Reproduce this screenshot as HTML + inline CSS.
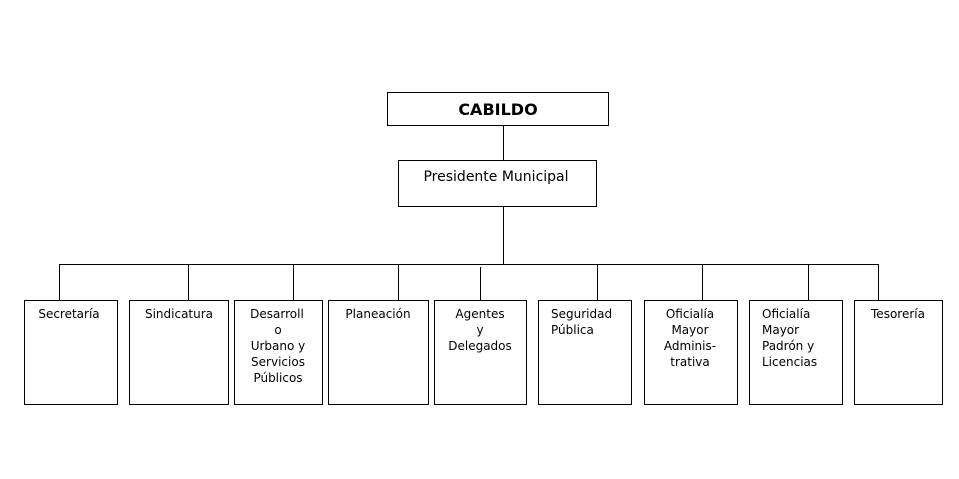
<!DOCTYPE html>
<html><head><meta charset="utf-8"><style>
html,body{margin:0;padding:0;background:#fff;width:959px;height:479px;overflow:hidden}
text{font-family:"DejaVu Sans","Liberation Sans",sans-serif;font-size:12px;fill:#000}
</style></head><body>
<svg width="959" height="479" viewBox="0 0 959 479" xmlns="http://www.w3.org/2000/svg">
<g fill="none" stroke="#000" stroke-width="1">
<rect x="387.5" y="92.5" width="221" height="33"/>
<rect x="398.5" y="160.5" width="198" height="46"/>
<line x1="503.5" y1="125" x2="503.5" y2="160"/>
<line x1="503.5" y1="206" x2="503.5" y2="264"/>
<line x1="59" y1="264.5" x2="879" y2="264.5"/>
<line x1="59.5" y1="264" x2="59.5" y2="300"/>
<line x1="188.5" y1="264" x2="188.5" y2="300"/>
<line x1="293.5" y1="264" x2="293.5" y2="300"/>
<line x1="398.5" y1="264" x2="398.5" y2="300"/>
<line x1="480.5" y1="267" x2="480.5" y2="300"/>
<line x1="597.5" y1="264" x2="597.5" y2="300"/>
<line x1="702.5" y1="264" x2="702.5" y2="300"/>
<line x1="808.5" y1="264" x2="808.5" y2="300"/>
<line x1="878.5" y1="264" x2="878.5" y2="300"/>
<rect x="24.5" y="300.5" width="93" height="104"/>
<rect x="129.5" y="300.5" width="99" height="104"/>
<rect x="234.5" y="300.5" width="88" height="104"/>
<rect x="328.5" y="300.5" width="100" height="104"/>
<rect x="434.5" y="300.5" width="92" height="104"/>
<rect x="538.5" y="300.5" width="93" height="104"/>
<rect x="644.5" y="300.5" width="93" height="104"/>
<rect x="749.5" y="300.5" width="93" height="104"/>
<rect x="854.5" y="300.5" width="88" height="104"/>
</g>
<text x="498" y="115" text-anchor="middle" style="font-size:16px;font-weight:bold">CABILDO</text>
<text x="496" y="181" text-anchor="middle" style="font-size:14px">Presidente Municipal</text>
<text x="69" y="318" text-anchor="middle">Secretaría</text>
<text x="179" y="318" text-anchor="middle">Sindicatura</text>
<text x="277" y="318" text-anchor="middle">Desarroll</text>
<text x="278" y="334" text-anchor="middle">o</text>
<text x="278" y="350" text-anchor="middle">Urbano y</text>
<text x="278" y="366" text-anchor="middle">Servicios</text>
<text x="278" y="382" text-anchor="middle">Públicos</text>
<text x="378" y="318" text-anchor="middle">Planeación</text>
<text x="480" y="318" text-anchor="middle">Agentes</text>
<text x="480" y="334" text-anchor="middle">y</text>
<text x="480" y="350" text-anchor="middle">Delegados</text>
<text x="551" y="318">Seguridad</text>
<text x="551" y="334">Pública</text>
<text x="690" y="318" text-anchor="middle">Oficialía</text>
<text x="690" y="334" text-anchor="middle">Mayor</text>
<text x="690" y="350" text-anchor="middle">Adminis-</text>
<text x="690" y="366" text-anchor="middle">trativa</text>
<text x="762" y="318">Oficialía</text>
<text x="762" y="334">Mayor</text>
<text x="762" y="350">Padrón y</text>
<text x="762" y="366">Licencias</text>
<text x="898" y="318" text-anchor="middle">Tesorería</text>
</svg>
</body></html>
